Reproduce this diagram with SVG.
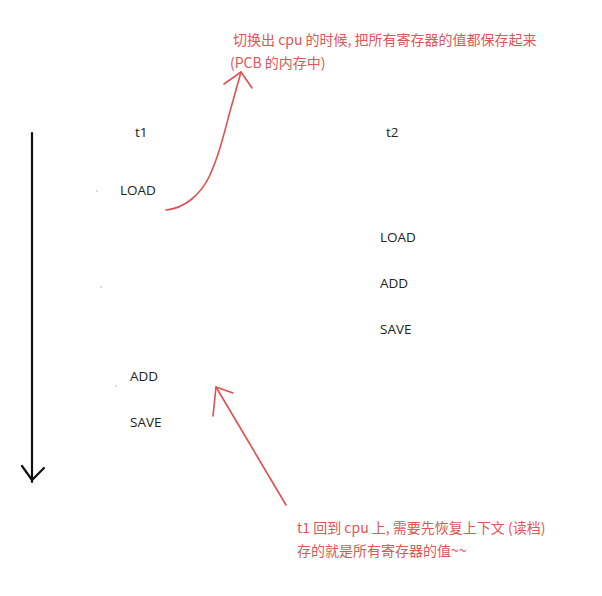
<svg xmlns="http://www.w3.org/2000/svg" width="602" height="596" viewBox="0 0 602 596">
<style>
.t{font-family:"Open Sans","Noto Sans CJK SC",sans-serif;font-size:13.5px;fill:#222}
.r{font-family:"Noto Sans CJK SC","Open Sans",sans-serif;font-size:14px;fill:#e05555}
.rl{fill:none;stroke:#e05050;stroke-width:1.6;stroke-linecap:round;stroke-linejoin:round}
.bl{fill:none;stroke:#111;stroke-width:2.2;stroke-linecap:round}
</style>
<rect width="602" height="596" fill="#fff"/>
<g id="connectors">
<path class="bl" d="M32 133 L32 482"/>
<path class="bl" d="M22 466 L32 480 L44 468"/>
<path class="rl" d="M166 210 C185 208 200 195 209 177 C218 158 223 138 229 115 L241 72"/>
<path class="rl" d="M224 84 L241 72 L252 88"/>
<path class="rl" d="M286 505 L216 387"/>
<path class="rl" d="M213 416 L216 387 L233 393"/>
</g>
<g id="t1"><text class="t" x="135" y="137">t1</text></g>
<g id="t2"><text class="t" x="386" y="137">t2</text></g>
<g id="t1-load"><text class="t" x="120" y="195">LOAD</text></g>
<g id="t1-add"><text class="t" x="130" y="381">ADD</text></g>
<g id="t1-save"><text class="t" x="130" y="427">SAVE</text></g>
<g id="t2-load"><text class="t" x="380" y="242">LOAD</text></g>
<g id="t2-add"><text class="t" x="380" y="288">ADD</text></g>
<g id="t2-save"><text class="t" x="380" y="334">SAVE</text></g>
<g id="dots" fill="#999"><circle cx="97" cy="191" r="0.7"/><circle cx="101" cy="287" r="0.7"/><circle cx="116" cy="386" r="0.7"/></g>
<g id="note-top">
<text class="r" x="233" y="45">切换出 cpu 的时候, 把所有寄存器的值都保存起来</text>
<text class="r" x="230" y="68">(PCB 的内存中)</text>
</g>
<g id="note-bottom">
<text class="r" x="297" y="533">t1 回到 cpu 上, 需要先恢复上下文 (读档)</text>
<text class="r" x="297" y="556">存的就是所有寄存器的值~~</text>
</g>
</svg>
